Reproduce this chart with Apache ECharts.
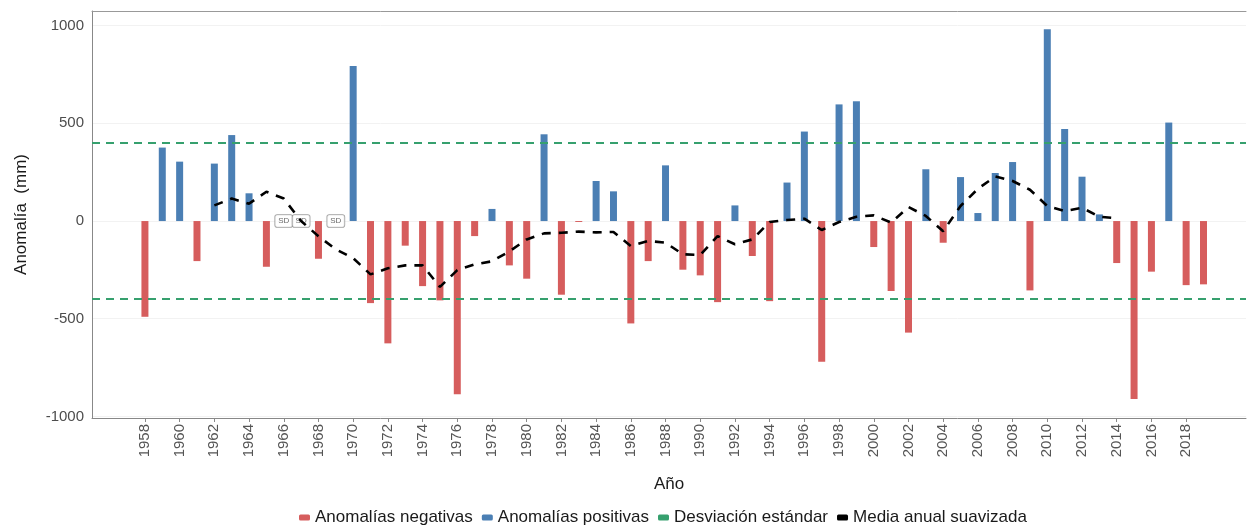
<!DOCTYPE html>
<html>
<head>
<meta charset="utf-8">
<script src="https://cdn.jsdelivr.net/npm/echarts@6/dist/echarts.min.js"></script>
<style>
html,body{margin:0;padding:0;background:#fff;}
#chart{width:1248px;height:527px;}
</style>
</head>
<body>
<div id="chart"></div>
<script>
// ---- Data ----
const years = [1958,1959,1960,1961,1962,1963,1964,1965,1966,1967,1968,1969,1970,1971,1972,1973,1974,1975,1976,1977,1978,1979,1980,1981,1982,1983,1984,1985,1986,1987,1988,1989,1990,1991,1992,1993,1994,1995,1996,1997,1998,1999,2000,2001,2002,2003,2004,2005,2006,2007,2008,2009,2010,2011,2012,2013,2014,2015,2016,2017,2018,2019];
const anomalies = [-490,376,304,-205,294,440,142,-234,null,null,-193,null,794,-420,-626,-126,-333,-406,-887,-77,62,-227,-295,444,-377,-5,205,152,-524,-205,285,-249,-278,-415,80,-179,-410,197,458,-720,597,613,-133,-358,-571,265,-111,225,41,246,302,-355,982,471,227,34,-215,-911,-259,504,-328,-324];

const smoothYears = [1962,1963,1964,1965,1966,1967,1968,1969,1970,1971,1972,1973,1974,1975,1976,1977,1978,1979,1980,1981,1982,1983,1984,1985,1986,1987,1988,1989,1990,1991,1992,1993,1994,1995,1996,1997,1998,1999,2000,2001,2002,2003,2004,2005,2006,2007,2008,2009,2010,2011,2012,2013,2014];
const smoothValues = [80,115,89,150,115,0,-78,-145,-190,-273,-242,-227,-227,-337,-251,-222,-206,-155,-94,-63,-60,-54,-58,-56,-128,-102,-111,-170,-174,-77,-119,-94,-5,5,12,-46,-5,22,29,-8,72,26,-52,77,165,228,205,160,77,51,68,22,14];

const sdUpper = 403;
const sdLower = -399;
const sdYears = [1966,1967,1969];   // years without data ("SD")

const xTickLabels = [1958,1960,1962,1964,1966,1968,1970,1972,1974,1976,1978,1980,1982,1984,1986,1988,1990,1992,1994,1996,1998,2000,2002,2004,2006,2008,2010,2012,2014,2016,2018];
const yTickLabels = [-1000,-500,0,500,1000];

const seriesNames = ['Anomalías negativas','Anomalías positivas','Desviación estándar','Media anual suavizada'];

// ---- Build series data ----
const negData = years.map((y,i)=> (anomalies[i]!==null && anomalies[i]<0) ? [y, anomalies[i]] : [y, null]);
const posData = years.map((y,i)=> (anomalies[i]!==null && anomalies[i]>=0) ? [y, anomalies[i]] : [y, null]);
const smoothData = smoothYears.map((y,i)=>[y, smoothValues[i]]);
const sdData = sdYears.map(y=>[y,0]);

const RED = '#d65d5d', BLUE = '#4b7fb4', GREEN = '#36a06e', BLACK = '#000000';
const FONT = 'Liberation Sans, Arial, sans-serif';

const chart = echarts.init(document.getElementById('chart'), null, {renderer:'canvas'});
chart.setOption({
  animation:false,
  backgroundColor:'#ffffff',
  textStyle:{fontFamily:FONT},
  grid:{left:92, right:2, top:11, bottom:109},
  legend:{
    data: seriesNames,
    top: 507,
    left: 294,
    padding: [2,5],
    icon: 'roundRect',
    itemWidth: 11,
    itemHeight: 6,
    itemGap: 9,
    textStyle:{fontSize:17, color:'#1a1a1a', fontFamily:FONT}
  },
  xAxis:[{
    type:'value',
    min:1954.95,
    max:2021.45,
    name:'Año',
    nameLocation:'middle',
    nameGap:58,
    nameTextStyle:{fontSize:17, color:'#1a1a1a', fontFamily:FONT},
    axisLine:{show:true, onZero:false, lineStyle:{color:'#888', width:1}},
    axisTick:{show:true, length:4, customValues:xTickLabels, lineStyle:{color:'#888'}},
    axisLabel:{rotate:90, fontSize:15, color:'#555', margin:6, customValues:xTickLabels, formatter:v=>String(v)},
    splitLine:{show:false}
  },{
    type:'value',
    position:'top',
    min:1954.95,
    max:2021.45,
    axisLine:{show:true, onZero:false, lineStyle:{color:'#999', width:1}},
    axisTick:{show:false},
    axisLabel:{show:false},
    splitLine:{show:false}
  }],
  yAxis:{
    type:'value',
    min:-1008,
    max:1075,
    name:'Anomalía  (mm)',
    nameLocation:'middle',
    nameGap:62,
    nameTextStyle:{fontSize:17, color:'#1a1a1a', fontFamily:FONT},
    axisLine:{show:true, lineStyle:{color:'#888', width:1}},
    axisTick:{show:false, customValues:yTickLabels},
    axisLabel:{fontSize:15, color:'#4d4d4d', margin:8, customValues:yTickLabels, formatter:v=>String(v)},
    splitLine:{show:true, lineStyle:{color:'#f2f2f2', width:1}}
  },
  series:[
    {
      name:seriesNames[0], type:'bar', data:negData, barWidth:7, barGap:'-100%',
      itemStyle:{color:RED}, z:2
    },
    {
      name:seriesNames[1], type:'bar', data:posData, barWidth:7, barGap:'-100%',
      itemStyle:{color:BLUE}, z:2
    },
    {
      name:seriesNames[2], type:'line', data:[], itemStyle:{color:GREEN},
      lineStyle:{color:GREEN},
      markLine:{
        silent:true, symbol:['none','none'], label:{show:false},
        lineStyle:{color:GREEN, type:[8,6], width:1.8},
        data:[{yAxis:sdUpper},{yAxis:sdLower}]
      }, z:3
    },
    {
      name:'SD', type:'scatter', data:sdData, symbolSize:0,
      label:{show:true, position:'inside', formatter:'SD', fontSize:8, lineHeight:8, color:'#444',
        backgroundColor:'#ffffff', borderColor:'#8a8a8a', borderWidth:0.8, borderRadius:2, padding:[2,3]},
      z:4
    },
    {
      name:seriesNames[3], type:'line', data:smoothData, showSymbol:false, symbol:'none',
      itemStyle:{color:BLACK},
      lineStyle:{color:BLACK, width:2.6, type:[9,8]},
      z:5
    }
  ]
});
</script>
</body>
</html>
